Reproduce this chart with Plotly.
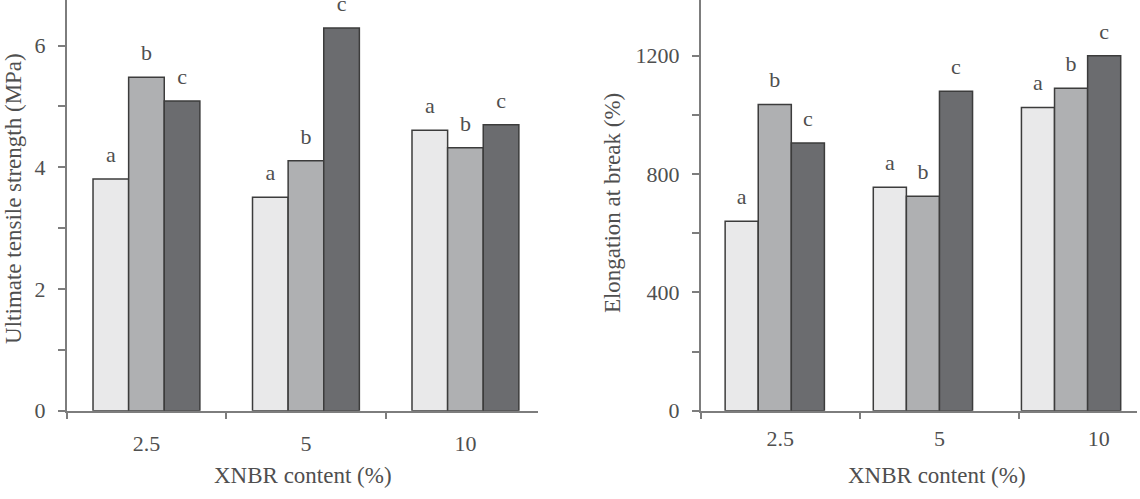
import plotly.graph_objects as go

# ---------------- data ----------------
categories = ["2.5", "5", "10"]
letters = ["a", "b", "c"]

uts_a = [3.81, 3.51, 4.61]
uts_b = [5.48, 4.11, 4.32]
uts_c = [5.09, 6.29, 4.70]

elong_a = [640, 755, 1025]
elong_b = [1035, 725, 1090]
elong_c = [905, 1080, 1200]

uts_tickvals = [0, 1, 2, 3, 4, 5, 6]
uts_ticktext = ["0", "", "2", "", "4", "", "6"]
elong_tickvals = [0, 200, 400, 600, 800, 1000, 1200]
elong_ticktext = ["0", "", "400", "", "800", "", "1200"]

# ---------------- style ----------------
FONT = "Liberation Serif"
TXT = "#4f4f4f"
AX = "#7d7d7d"
fills = ["#e9e9ea", "#afb0b2", "#6b6c6f"]
edge = "#3c3c3c"
W, H = 1140, 499

fig = go.Figure()

left_series = [uts_a, uts_b, uts_c]
right_series = [elong_a, elong_b, elong_c]

for j, vals in enumerate(left_series):
    fig.add_trace(go.Bar(x=categories, y=vals, marker=dict(color=fills[j], line=dict(color=edge, width=1.5)),
                         offsetgroup=str(j), xaxis="x", yaxis="y", showlegend=False, hoverinfo="skip"))
for j, vals in enumerate(right_series):
    fig.add_trace(go.Bar(x=categories, y=vals, marker=dict(color=fills[j], line=dict(color=edge, width=1.5)),
                         offsetgroup=str(j), xaxis="x2", yaxis="y2", showlegend=False, hoverinfo="skip"))

# significance letters
for j, vals in enumerate(left_series):
    fig.add_trace(go.Scatter(x=categories, y=vals, mode="markers+text", text=[letters[j]] * len(vals),
                             textposition="top center", marker=dict(size=17, color="rgba(0,0,0,0)"),
                             textfont=dict(family=FONT, size=22, color=TXT), offsetgroup=str(j),
                             cliponaxis=False, xaxis="x", yaxis="y", showlegend=False, hoverinfo="skip"))
for j, vals in enumerate(right_series):
    fig.add_trace(go.Scatter(x=categories, y=vals, mode="markers+text", text=[letters[j]] * len(vals),
                             textposition="top center", marker=dict(size=17, color="rgba(0,0,0,0)"),
                             textfont=dict(family=FONT, size=22, color=TXT), offsetgroup=str(j),
                             cliponaxis=False, xaxis="x2", yaxis="y2", showlegend=False, hoverinfo="skip"))

# carrier for the right tick axis (category boundaries / labels)
fig.add_trace(go.Scatter(x=categories, y=[0] * len(categories), mode="markers",
                         marker=dict(size=0.1, color="rgba(0,0,0,0)"), xaxis="x3", yaxis="y2",
                         showlegend=False, hoverinfo="skip"))

tickfont = dict(family=FONT, size=22, color=TXT)
ydom = [(H - 421.7) / H, 1.0]
xdom_l = [66.7 / W, 538 / W]
xdom_r = [700.7 / W, 1137 / W]

fig.update_layout(
    width=W, height=H, margin=dict(l=0, r=0, t=0, b=0),
    paper_bgcolor="white", plot_bgcolor="white",
    barmode="group", bargap=0.33, bargroupgap=0,
    scattermode="group", scattergap=0.33,
    font=dict(family=FONT, size=22, color=TXT),
    xaxis=dict(domain=xdom_l, anchor="y", type="category", categoryorder="array", categoryarray=categories,
               range=[-0.5, 2.455], tickson="boundaries", ticks="outside", ticklen=7, tickwidth=1.5,
               tickcolor=AX, showline=True, linecolor=AX, linewidth=1.5, showgrid=False, zeroline=False,
               tickfont=tickfont, ticklabelstandoff=12),
    yaxis=dict(domain=ydom, anchor="x", range=[0, 6.75], tickvals=uts_tickvals, ticktext=uts_ticktext,
               ticks="outside", ticklen=7, tickwidth=1.5, tickcolor=AX, showline=True, linecolor=AX,
               linewidth=1.5, showgrid=False, zeroline=False, tickfont=tickfont, ticklabelstandoff=8),
    xaxis2=dict(domain=xdom_r, anchor="y2", type="category", categoryorder="array", categoryarray=categories,
                range=[-0.5, 2.445], ticks="", showticklabels=False, showline=True, linecolor=AX,
                linewidth=1.5, showgrid=False, zeroline=False),
    xaxis3=dict(overlaying="x2", anchor="y2", type="category", categoryorder="array", categoryarray=categories,
                range=[-0.5, 2.24], tickson="boundaries", ticks="outside", ticklen=7, tickwidth=1.5,
                tickcolor=AX, showline=False, showgrid=False, zeroline=False, tickfont=tickfont,
                ticklabelstandoff=12),
    yaxis2=dict(domain=ydom, anchor="x2", range=[0, 1388], tickvals=elong_tickvals, ticktext=elong_ticktext,
                ticks="outside", ticklen=7, tickwidth=1.5, tickcolor=AX, showline=True, linecolor=AX,
                linewidth=1.5, showgrid=False, zeroline=False, tickfont=tickfont, ticklabelstandoff=8),
)

title_font = dict(family=FONT, size=23, color=TXT)
fig.add_annotation(text="Ultimate tensile strength (MPa)", xref="paper", yref="paper",
                   x=12.7 / W, y=1 - 203.5 / H, textangle=-90, showarrow=False,
                   xanchor="center", yanchor="middle", font=title_font)
fig.add_annotation(text="Elongation at break (%)", xref="paper", yref="paper",
                   x=612 / W, y=1 - 208.5 / H, textangle=-90, showarrow=False,
                   xanchor="center", yanchor="middle", font=title_font)
fig.add_annotation(text="XNBR content (%)", xref="paper", yref="paper",
                   x=303 / W, y=1 - 488 / H, showarrow=False,
                   xanchor="center", yanchor="middle", font=title_font)
fig.add_annotation(text="XNBR content (%)", xref="paper", yref="paper",
                   x=937 / W, y=1 - 488 / H, showarrow=False,
                   xanchor="center", yanchor="middle", font=title_font)

fig.write_html("out.html")
